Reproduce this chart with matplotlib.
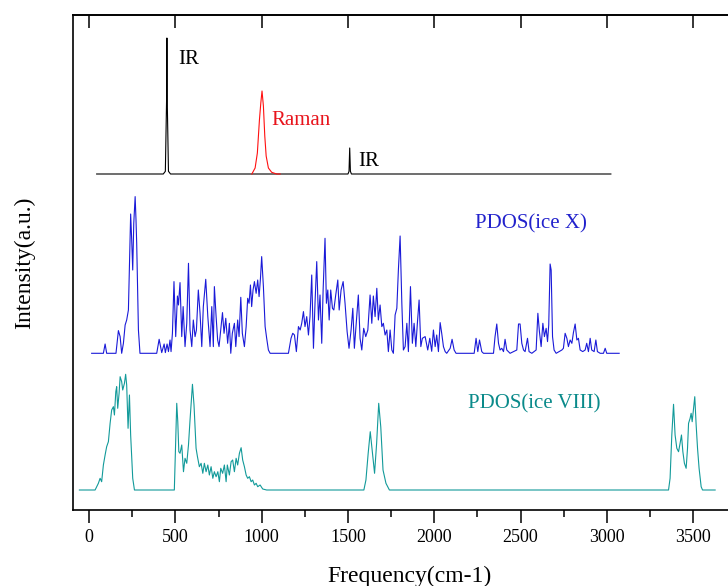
import matplotlib
matplotlib.use("Agg")
import matplotlib.pyplot as plt
from matplotlib.ticker import MultipleLocator

plt.rcParams['font.family'] = ['Liberation Serif', 'DejaVu Serif']

# IR spectrum (black): frequency (cm-1) and intensity
ir_x = [44, 430, 442, 449, 451, 453, 460, 472, 1500, 1506, 1510, 1514, 1520, 3023]
ir_y = [0, 0, 2.7, 73, 136, 73, 2.7, 0, 0, 2.7, 26, 2.7, 0, 0]

# Raman spectrum (red)
raman_x = [943, 962, 975, 987, 995, 1002, 1010, 1018, 1026, 1039, 1058, 1087, 1107]
raman_y = [0, 6, 21, 54, 71, 83, 68, 38, 18, 6, 1.7, 0, 0]

# PDOS ice X (blue)
pdosx_x = [15, 83, 93, 102, 156, 170, 180, 189, 199, 209, 218, 228, 238, 241, 247, 253, 259, 267,
           272, 276, 286, 295, 392, 406, 421, 435, 442, 452, 460, 469, 475, 483, 492, 502, 512,
           518, 527, 537, 545, 556, 566, 576, 585, 595, 604, 614, 622, 633, 643, 653, 662, 676,
           688, 701, 711, 720, 726, 736, 745, 753, 759, 773, 782, 792, 803, 813, 821, 830, 842,
           850, 861, 869, 879, 888, 900, 910, 919, 927, 935, 942, 950, 958, 968, 977, 985, 993,
           1000, 1010, 1020, 1029, 1039, 1049, 1155, 1170, 1180, 1190, 1201, 1213, 1223, 1232,
           1242, 1251, 1261, 1271, 1280, 1290, 1300, 1309, 1319, 1329, 1338, 1348, 1356, 1367,
           1375, 1383, 1391, 1400, 1410, 1418, 1429, 1441, 1449, 1460, 1472, 1483, 1495, 1506,
           1518, 1528, 1537, 1549, 1560, 1570, 1580, 1591, 1603, 1615, 1628, 1638, 1647, 1657,
           1667, 1676, 1686, 1696, 1705, 1715, 1725, 1734, 1744, 1754, 1763, 1773, 1783, 1792,
           1802, 1812, 1821, 1831, 1841, 1850, 1862, 1873, 1883, 1893, 1902, 1912, 1922, 1931,
           1947, 1962, 1974, 1985, 1995, 2005, 2014, 2024, 2034, 2043, 2053, 2063, 2072, 2092,
           2103, 2115, 2126, 2231, 2242, 2252, 2262, 2275, 2285, 2343, 2352, 2362, 2372, 2381,
           2391, 2401, 2410, 2420, 2439, 2478, 2488, 2497, 2507, 2517, 2526, 2540, 2549, 2565,
           2590, 2600, 2609, 2619, 2629, 2638, 2648, 2656, 2663, 2671, 2677, 2685, 2694, 2706,
           2739, 2748, 2758, 2768, 2777, 2787, 2797, 2806, 2816, 2826, 2835, 2845, 2860, 2874,
           2883, 2893, 2903, 2912, 2926, 2936, 2945, 2961, 2980, 2990, 2999, 3071]
pdosx_y = [0, 0, 9.3, 0, 0, 22.7, 16.7, 0, 10, 28.3, 33.3, 43.3, 115, 139.3, 113.3, 83.3, 130, 156.7,
           133.3, 110, 23.3, 0, 0, 14, 0.7, 9.3, 0.7, 9.3, 1.7, 13.3, 1.7, 20, 71.7, 16.7, 57.3,
           48.3, 70.7, 16.7, 46.7, 6.7, 30, 90, 23.3, 6.7, 33.3, 16.7, 23.3, 63.3, 40, 6.7, 46.7, 74,
           36.7, 6.7, 46.7, 6.7, 66.7, 36.7, 13.3, 6.7, 16.7, 40.7, 20, 35, 10, 30, 0, 20, 30,
           6.7, 33.3, 16.7, 56, 20, 6.7, 26.7, 55, 50, 68.3, 46.7, 63.3, 71.7, 60, 73.3, 56.7, 75,
           96.7, 66.7, 26.7, 15, 3.3, 0, 0, 15, 20, 18.3, 1.7, 26.7, 23.3, 30,
           41.7, 26.7, 36.7, 18.3, 36.7, 78.3, 5, 50, 91.7, 33.3, 58.3, 10, 63.3, 115,
           50, 63.3, 33.3, 63.3, 45, 43.3, 58.3, 73.3, 43.3, 63.3, 71.7, 50, 21.7, 5,
           23.3, 45, 5, 33.3, 58.3, 15, 3.3, 25, 16.7, 23.3, 58.3, 30, 57.3, 36.7,
           65, 33.3, 48.3, 26.7, 30, 18.3, 23.3, 1.7, 23.3, 3.3, 0, 38.3, 45, 83.3,
           117.3, 50, 3.3, 6.7, 30, 1.7, 66.7, 10, 30, 6.7, 30, 53.3, 6.7, 15,
           16.7, 3.3, 15, 2, 23.3, 6.7, 18.3, 1.7, 30.7, 20, 6.7, 1.7, 0, 5,
           14, 3.3, 0, 0, 15, 1.7, 13.3, 1.7, 0, 0, 16.7, 29.3, 10, 3.3,
           5, 1.7, 14, 3.3, 0, 3.3, 29.3, 29.3, 10, 3.3, 1.7, 15, 1.7, 0,
           3.3, 40, 21.7, 6.7, 30, 16.7, 25, 11.7, 28.3, 89.3, 83.3, 16.7, 3.3, 0,
           3.3, 5, 20, 15, 6.7, 13.3, 10, 20.7, 29.3, 13.3, 15, 3.3, 1.7, 3.3,
           10, 1.7, 15, 3.3, 1.7, 13.3, 1.7, 0, 0, 5, 0, 0]

# PDOS ice VIII (teal)
pdos8_x = [-56, 35, 54, 64, 73, 83, 93, 102, 112, 122, 131, 141, 147, 155, 160, 166, 174, 180, 189,
           195, 205, 212, 218, 226, 234, 241, 253, 263, 494, 508, 514, 520, 527, 537, 547, 556,
           566, 576, 585, 599, 608, 620, 628, 639, 649, 659, 668, 678, 688, 697, 707, 717, 726,
           736, 746, 755, 763, 774, 784, 794, 801, 813, 823, 832, 842, 852, 861, 871, 881, 890,
           900, 910, 919, 929, 939, 948, 958, 968, 977, 991, 1006, 1029, 1592, 1604, 1617, 1629,
           1654, 1666, 1678, 1690, 1703, 1720, 1740, 3357, 3366, 3376, 3386, 3395, 3405, 3415,
           3424, 3432, 3440, 3449, 3459, 3467, 3473, 3482, 3488, 3494, 3502, 3509, 3517, 3525,
           3534, 3546, 3554, 3627]
pdos8_y = [0, 0, 6.7, 11.7, 8.3, 25, 35, 43.3, 48.3, 66.7, 80, 83.3, 75, 98.3, 103.3, 81.7, 96.7,
           113.3, 108.3, 100, 106.7, 115.7, 105, 61.7, 95, 55, 11.7, 0, 0, 86.7, 68.3, 38.3, 36.7,
           45, 18.3, 31.7, 26.7, 45, 70, 105.7, 85, 41.7, 33.3, 23.3, 26.7, 16.7, 26.7, 18.3, 25,
           15, 23.3, 11.7, 18.3, 13.3, 18.3, 8.3, 21.7, 16.7, 25, 8.3, 25, 15, 28.3, 30, 18.3,
           31.7, 25, 36.7, 42.3, 30, 23.3, 15, 11.7, 13.3, 8.3, 10, 5, 6.7, 3.3, 5, 1, 0, 0, 10,
           36.7, 58.3, 16.7, 46.7, 86.7, 63, 20, 6.7, 0, 0, 11.7, 55, 85.7, 55, 41.7, 38.3,
           46.7, 55, 38.3, 26.7, 21.7, 41.7, 66.7, 71.7, 76.7, 68.3, 81.7, 93.3, 65, 41.7,
           21.7, 3.3, 0, 0]

ticks = [0, 500, 1000, 1500, 2000, 2500, 3000, 3500]

fig = plt.figure(figsize=(7.28, 5.86), dpi=100)
ax = fig.add_axes([73 / 728, 76 / 586, 672 / 728, 495 / 586])

# vertical offsets to stack the spectra
off_ir = 336
off_x = 156.7
off_8 = 20

ax.plot(ir_x, [v + off_ir for v in ir_y], color='black', lw=0.8)
ax.plot(raman_x, [v + off_ir for v in raman_y], color='#ff1010', lw=0.8)
ax.plot(pdosx_x, [v + off_x for v in pdosx_y], color='#1a1ad8', lw=0.8)
ax.plot(pdos8_x, [v + off_8 for v in pdos8_y], color='#129a9a', lw=0.8)

ax.text(516, 450, 'IR', fontsize=15, color='black', va='center')
ax.text(1058, 389.5, 'Raman', fontsize=15, color='#e8141c', va='center')
ax.text(1559, 348, 'IR', fontsize=15, color='black', va='center')
ax.text(2234, 286, 'PDOS(ice X)', fontsize=15, color='#2222cc', va='center')
ax.text(2197, 106.5, 'PDOS(ice VIII)', fontsize=15, color='#0a8a8a', va='center')

ax.set_xlim(-93, 3800)
ax.set_ylim(0, 495)
ax.set_yticks([])
ax.set_xticks(ticks)
ax.xaxis.set_minor_locator(MultipleLocator(250))
ax.tick_params(axis='x', which='major', direction='out', length=9, width=1.1,
               labelsize=13, pad=5)
ax.tick_params(axis='x', which='minor', direction='out', length=5, width=1.1)

top = ax.secondary_xaxis('top')
top.set_xticks(ticks)
top.tick_params(direction='in', length=9, width=1.1, labeltop=False)

for s in ax.spines.values():
    s.set_linewidth(1.2)
top.spines['top'].set_linewidth(1.2)

ax.set_xlabel('Frequency(cm-1)', fontsize=17, labelpad=14)
ax.set_ylabel('Intensity(a.u.)', fontsize=17, labelpad=27)

fig.savefig('out.png', dpi=100)
